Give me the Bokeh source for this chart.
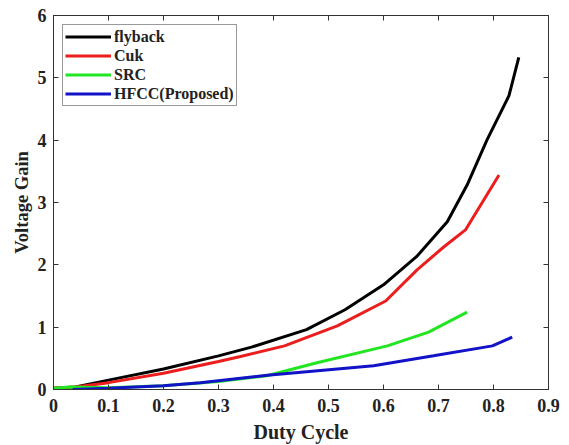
from bokeh.plotting import figure
from bokeh.models import FixedTicker, LinearAxis, Range1d, Legend, LegendItem
from bokeh.embed import file_html
from bokeh.resources import INLINE

# ---- data ----
flyback_x = [0.0, 0.04, 0.10, 0.20, 0.30, 0.36, 0.46, 0.53, 0.60, 0.66, 0.716, 0.752, 0.788, 0.828, 0.846]
flyback_y = [0.02, 0.04, 0.15, 0.33, 0.54, 0.68, 0.96, 1.28, 1.68, 2.13, 2.69, 3.28, 4.00, 4.71, 5.33]

cuk_x = [0.0, 0.04, 0.10, 0.20, 0.30, 0.34, 0.42, 0.516, 0.604, 0.661, 0.71, 0.749, 0.81]
cuk_y = [0.02, 0.04, 0.11, 0.26, 0.45, 0.53, 0.70, 1.02, 1.42, 1.92, 2.29, 2.56, 3.44]

src_x = [0.0, 0.03, 0.10, 0.20, 0.30, 0.388, 0.479, 0.607, 0.682, 0.752]
src_y = [0.02, 0.04, 0.03, 0.06, 0.13, 0.22, 0.43, 0.70, 0.92, 1.24]

hfcc_x = [0.035, 0.10, 0.20, 0.267, 0.389, 0.582, 0.691, 0.798, 0.834]
hfcc_y = [0.0, 0.02, 0.06, 0.11, 0.23, 0.38, 0.54, 0.70, 0.84]

series_names = ["flyback", "Cuk", "SRC", "HFCC(Proposed)"]
series_colors = ["#000000", "#ec1d1d", "#22e622", "#1212c8"]

x_ticks = [0.0, 0.1, 0.2, 0.3, 0.4, 0.5, 0.6, 0.7, 0.8, 0.9]
x_tick_labels = ["0", "0.1", "0.2", "0.3", "0.4", "0.5", "0.6", "0.7", "0.8", "0.9"]
y_ticks = [0, 1, 2, 3, 4, 5, 6]
y_tick_labels = ["0", "1", "2", "3", "4", "5", "6"]

FONT = "Liberation Serif"

p = figure(width=569, height=445, output_backend="svg", toolbar_location=None,
           x_range=Range1d(0, 0.9), y_range=Range1d(0, 6),
           min_border_left=53, min_border_right=21, min_border_top=15, min_border_bottom=55,
           x_axis_label="Duty Cycle", y_axis_label="Voltage Gain")
p.xgrid.visible = False
p.ygrid.visible = False
p.outline_line_color = "#333333"
p.outline_line_width = 1

xs = [flyback_x, cuk_x, src_x, hfcc_x]
ys = [flyback_y, cuk_y, src_y, hfcc_y]
renderers = []
for x, y, c in zip(xs, ys, series_colors):
    r = p.line(x, y, line_color=c, line_width=3)
    renderers.append(r)

for ax, ticks, labels in ((p.xaxis[0], x_ticks, x_tick_labels), (p.yaxis[0], y_ticks, y_tick_labels)):
    ax.ticker = FixedTicker(ticks=ticks)
    ax.major_label_overrides = {t: l for t, l in zip(ticks, labels)}
    ax.major_tick_in = 5
    ax.major_tick_out = 0
    ax.minor_tick_in = 0
    ax.minor_tick_out = 0
    ax.axis_line_color = "#333333"
    ax.major_tick_line_color = "#333333"
    ax.major_label_text_font = FONT
    ax.major_label_text_font_style = "bold"
    ax.major_label_text_font_size = "18px"
    ax.major_label_text_color = "#222222"
    ax.axis_label_text_font = FONT
    ax.axis_label_text_font_style = "bold"
    ax.axis_label_text_color = "#222222"

p.xaxis[0].major_label_standoff = 9
p.xaxis[0].axis_label_standoff = 6
p.xaxis[0].axis_label_text_font_size = "20px"
p.yaxis[0].major_label_standoff = 7
p.yaxis[0].axis_label_standoff = 3
p.yaxis[0].axis_label_text_font_size = "18.5px"

# mirrored ticks on top/right (box on)
for loc, ticks in (("above", x_ticks), ("right", y_ticks)):
    a = LinearAxis(ticker=FixedTicker(ticks=ticks))
    a.major_tick_in = 5
    a.major_tick_out = 0
    a.minor_tick_in = 0
    a.minor_tick_out = 0
    a.major_label_text_font_size = "2px"
    a.major_label_text_color = None
    a.major_label_standoff = 0
    a.axis_line_color = "#333333"
    a.major_tick_line_color = "#333333"
    p.add_layout(a, loc)

legend = Legend(items=[LegendItem(label=n, renderers=[r]) for n, r in zip(series_names, renderers)],
                location="top_left")
legend.margin = 9
legend.padding = 2
legend.spacing = 0
legend.label_text_font = FONT
legend.label_text_font_style = "bold"
legend.label_text_font_size = "16px"
legend.label_text_color = "#222222"
legend.label_height = 19
legend.glyph_height = 19
legend.glyph_width = 46
legend.label_standoff = 3
legend.border_line_color = "#333333"
legend.border_line_width = 1
legend.background_fill_alpha = 1
p.add_layout(legend, "center")

open("out.html", "w").write(file_html(p, INLINE))
